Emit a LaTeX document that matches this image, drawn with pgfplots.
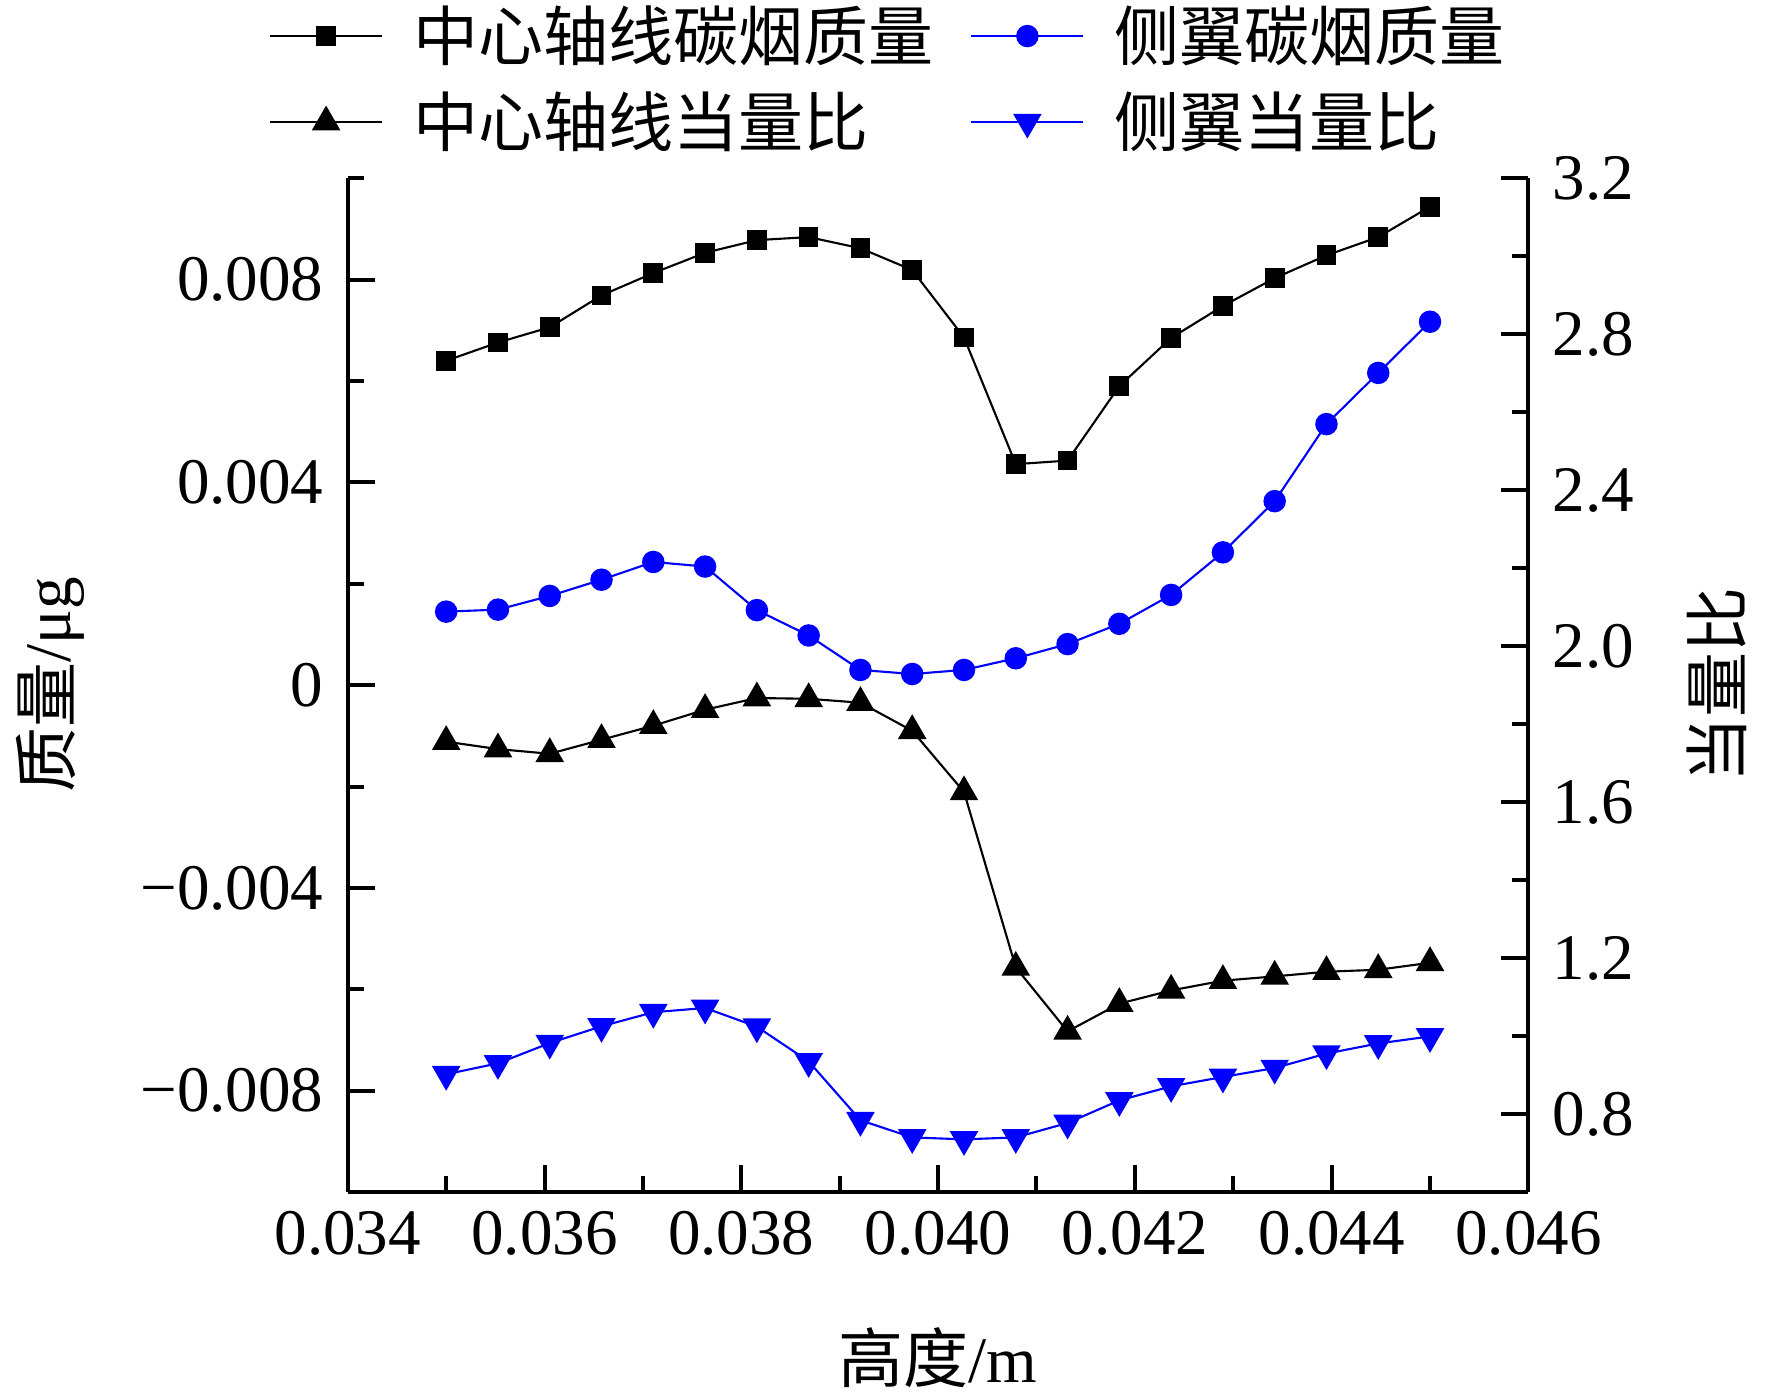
\documentclass[border=0pt]{standalone}
\usepackage{fontspec}
\setmainfont{Liberation Serif}
\newfontfamily\cjk{Noto Sans CJK SC}
\usepackage{pgfplots}
\usepackage{pgfplotstable}
\pgfplotsset{compat=1.18}
\definecolor{myblue}{RGB}{0,0,255}

\pgfplotstableread{
x A B C D
0.035     0.00640 0.00145 1.755 0.902
0.0355263 0.00676 0.00149 1.736 0.930
0.0360526 0.00706 0.00176 1.724 0.982
0.0365789 0.00769 0.00208 1.760 1.025
0.0371053 0.00813 0.00243 1.796 1.061
0.0376316 0.00853 0.00234 1.837 1.072
0.0381579 0.00878 0.00148 1.867 1.024
0.0386842 0.00884 0.00098 1.865 0.935
0.0392105 0.00862 0.00030 1.855 0.784
0.0397368 0.00819 0.00022 1.783 0.740
0.0402632 0.00686 0.00030 1.626 0.735
0.0407895 0.00436 0.00053 1.176 0.740
0.0413158 0.00443 0.00081 1.012 0.777
0.0418421 0.00590 0.00121 1.083 0.835
0.0423684 0.00685 0.00178 1.117 0.871
0.0428947 0.00748 0.00262 1.142 0.895
0.0434211 0.00803 0.00363 1.153 0.918
0.0439474 0.00848 0.00515 1.165 0.955
0.0444737 0.00884 0.00616 1.170 0.981
0.045     0.00944 0.00717 1.188 0.999
}\data

\newcommand{\fs}{\fontsize{18.5}{22}\selectfont}

\pgfplotsset{
  common/.style={
    scale only axis, width=11.806cm, height=10.137cm,
    xmin=0.034, xmax=0.046,
    tick align=inside,
    scaled ticks=false,
    axis line style={line width=1.14pt},
    tick style={line width=1.14pt, black},
    major tick length=0.27cm, minor tick length=0.16cm,
    tick label style={font=\fs},
    label style={font=\fs},
    xticklabel shift=0.07cm,
    yticklabel shift=0.12cm,
    clip=false,
  },
}

\begin{document}
\begin{tikzpicture}
\begin{axis}[common,
  ymin=-0.01, ymax=0.01,
  axis x line*=bottom, axis y line*=left,
  xtick={0.034,0.036,0.038,0.040,0.042,0.044,0.046},
  xticklabels={0.034,0.036,0.038,0.040,0.042,0.044,0.046},
  minor xtick={0.035,0.037,0.039,0.041,0.043,0.045},
  ytick={-0.008,-0.004,0,0.004,0.008},
  yticklabels={−0.008,−0.004,0,0.004,0.008},
  minor ytick={-0.006,-0.002,0.002,0.006,0.01},
  xlabel={{\cjk 高度}/m},
  ylabel={{\cjk 质量}/μg},
  xlabel style={at={(axis description cs:0.5,-0.163)}, anchor=center},
  ylabel style={at={(axis description cs:-0.2522,0.5)}, anchor=center},
]
\path (axis description cs:-0.2946,-0.19828) rectangle (axis description cs:1.20633,1.17589);
\addplot[black, line width=0.6pt, mark=square*, mark size=2.5pt, mark options={solid, fill=black}] table[x=x,y=A]{\data};
\addplot[myblue, line width=0.6pt, mark=*, mark size=2.9pt, mark options={solid, fill=myblue}] table[x=x,y=B]{\data};
\end{axis}
\begin{axis}[common,
  ymin=0.6, ymax=3.2,
  axis x line=none, axis y line*=right,
  ytick={0.8,1.2,1.6,2.0,2.4,2.8,3.2},
  yticklabels={0.8,1.2,1.6,2.0,2.4,2.8,3.2},
  minor ytick={1.0,1.4,1.8,2.2,2.6,3.0},
  ylabel={\cjk 当量比},
  ylabel style={at={(axis description cs:1.160,0.5)}, anchor=center, rotate=0},
  legend columns=2,
  legend cell align=left,
  legend style={
    at={(axis description cs:-0.0667,1.1724)}, anchor=north west,
    draw=none, fill=none, inner sep=0pt, outer sep=0pt,
    row sep=0.21cm,
    nodes={inner sep=0pt, text height=0.57cm, text depth=0.08cm},
    /tikz/every odd column/.append style={column sep=0.30cm},
    /tikz/every even column/.append style={column sep=0.37cm},
    font=\fs\cjk,
  },
  legend image code/.code={\draw[mark repeat=2,mark phase=2,#1] plot coordinates {(0cm,0cm) (0.56cm,0cm) (1.12cm,0cm)};},
]
\addlegendimage{black, line width=0.6pt, mark=square*, mark size=2.5pt, mark options={solid, fill=black}}
\addlegendimage{myblue, line width=0.6pt, mark=*, mark size=2.9pt, mark options={solid, fill=myblue}}
\addplot[black, line width=0.6pt, mark=triangle*, mark size=4.1pt, mark options={solid, fill=black}] table[x=x,y=C]{\data};
\addplot[myblue, line width=0.6pt, mark=triangle*, mark size=4.1pt, mark options={solid, fill=myblue, rotate=180}] table[x=x,y=D]{\data};
\legend{中心轴线碳烟质量,侧翼碳烟质量,中心轴线当量比,侧翼当量比}
\end{axis}
\end{tikzpicture}
\end{document}
